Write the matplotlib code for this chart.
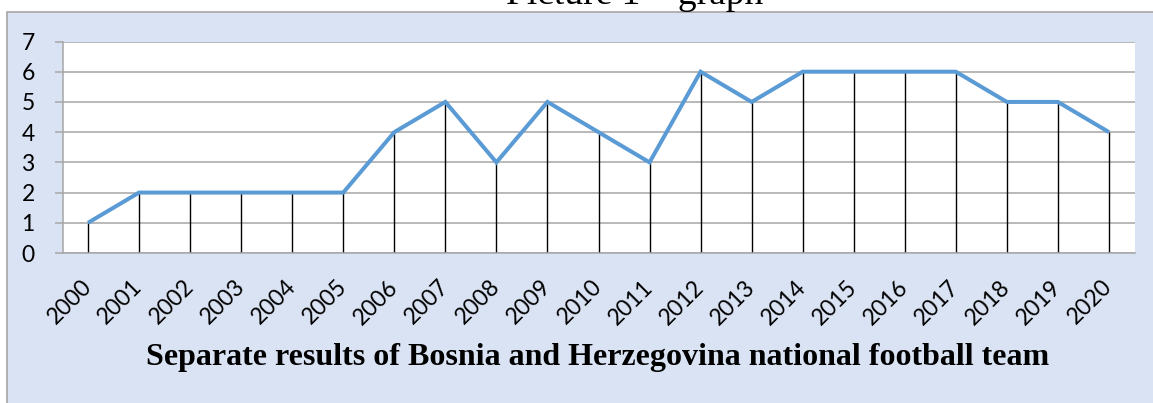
import matplotlib
matplotlib.use("Agg")
import matplotlib.pyplot as plt
from matplotlib.patches import Rectangle

years = [str(y) for y in range(2000, 2021)]
results = [1, 2, 2, 2, 2, 2, 4, 5, 3, 5, 4, 3, 6, 5, 6, 6, 6, 6, 5, 5, 4]
y_ticks = [0, 1, 2, 3, 4, 5, 6, 7]
chart_title = "Separate results of Bosnia and Herzegovina national football team"
caption = "Picture 1 \u2013 graph"

W, H = 1153, 403
fig = plt.figure(figsize=(W / 100, H / 100), dpi=100, facecolor="white")

# light blue chart area with grey border (top edge at y=12px)
fig.patches.append(Rectangle((6.5 / W, -0.05), 1.2, (H - 12) / H + 0.05,
                             transform=fig.transFigure, facecolor="#DAE3F3",
                             edgecolor="#A6A6A6", linewidth=1.2, zorder=0))

# caption text above the box, mostly cut off by the top edge (as in the source)
fig.text(635 / W, (H - 4) / H, caption, ha="center", va="baseline",
         family="Liberation Serif", fontsize=27, color="black")

ax = fig.add_axes([62.5 / W, (H - 253) / H, 1072 / W, 211.5 / H])
ax.set_zorder(2)
ax.set_facecolor("white")
x = list(range(len(years)))

ax.vlines(x, 0, results, colors="black", linewidth=1.0, zorder=2)
ax.plot(x, results, color="#5B9BD5", linewidth=2.9, zorder=3,
        solid_capstyle="butt", solid_joinstyle="miter")

ax.set_xlim(-0.5, len(years) - 0.5)
ax.set_ylim(0, 7)
ax.set_yticks(y_ticks)
ax.yaxis.grid(True, color="#A6A6A6", linewidth=1.1)
ax.set_axisbelow(True)

ax.set_xticks(x)
ax.set_xticklabels(years, rotation=45, ha="right", va="center",
                   rotation_mode="anchor", family="Lato", fontsize=16.5)
ax.tick_params(axis="x", length=0, pad=22)
ax.set_yticklabels([str(v) for v in y_ticks], family="Lato", fontsize=16.5)
ax.tick_params(axis="y", length=6, width=1.1, color="#A6A6A6", pad=14)

for side in ["top", "right"]:
    ax.spines[side].set_visible(False)
for side in ["left", "bottom"]:
    ax.spines[side].set_color("#A6A6A6")
    ax.spines[side].set_linewidth(1.1)

fig.text(598 / W, (H - 357) / H, chart_title, ha="center", va="center",
         family="Liberation Serif", fontweight="bold", fontsize=23, zorder=3)

fig.savefig("out.png", dpi=100)
